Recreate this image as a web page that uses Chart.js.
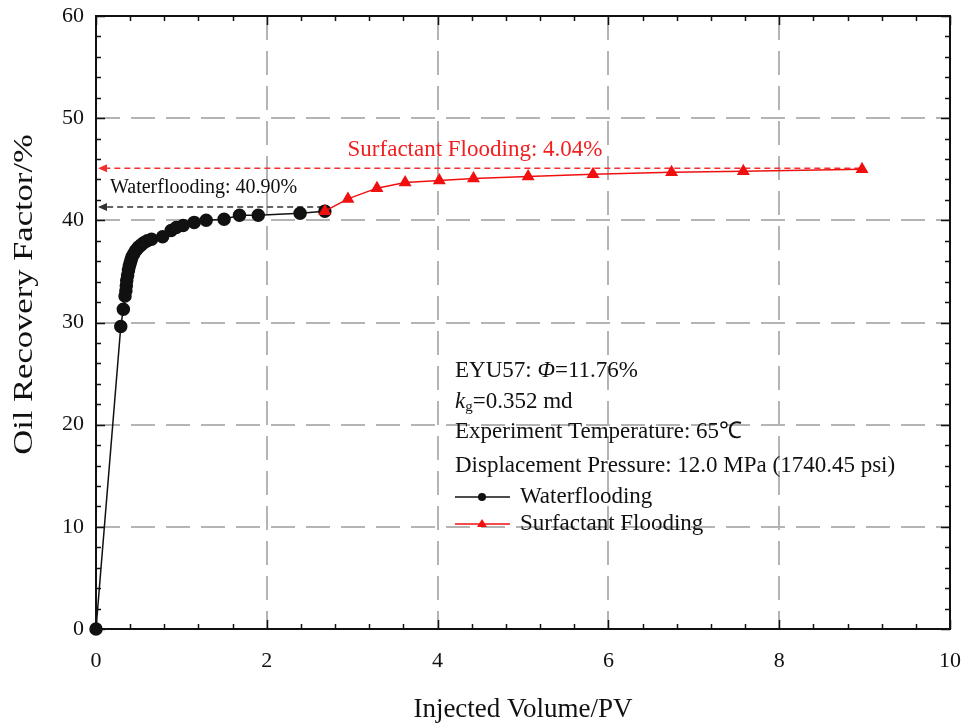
<!DOCTYPE html>
<html>
<head>
<meta charset="utf-8">
<script src="https://cdn.jsdelivr.net/npm/chart.js@4.4.1/dist/chart.umd.min.js"></script>
<style>
  html, body { margin: 0; padding: 0; background: #fff; }
  #wrap { width: 965px; height: 723px; }
</style>
</head>
<body>
<div id="wrap"><canvas id="recoveryChart" width="965" height="723"></canvas></div>
<script>
// Waterflooding stage (injected PV vs recovery %)
const waterX = [0, 0.29, 0.32, 0.34, 0.35, 0.355, 0.36, 0.37, 0.38, 0.39, 0.40, 0.41, 0.42, 0.44, 0.46, 0.48,
                0.50, 0.53, 0.56, 0.60, 0.65, 0.78, 0.88, 0.94, 1.02, 1.15, 1.29, 1.50, 1.68, 1.90, 2.39, 2.68];
const waterY = [0, 29.6, 31.3, 32.6, 33.1, 33.6, 34.1, 34.6, 35.1, 35.5, 35.8, 36.1, 36.4, 36.7, 37.0, 37.2,
                37.4, 37.6, 37.8, 38.0, 38.15, 38.4, 39.0, 39.3, 39.5, 39.8, 40.0, 40.1, 40.5, 40.5, 40.7, 40.9];

// Surfactant flooding stage
const surfX = [2.68, 2.95, 3.29, 3.62, 4.02, 4.42, 5.06, 5.82, 6.74, 7.58, 8.97];
const surfY = [40.9, 42.1, 43.15, 43.7, 43.9, 44.1, 44.3, 44.5, 44.7, 44.8, 45.0];

const xTicks = [0, 2, 4, 6, 8, 10];
const yTicks = [0, 10, 20, 30, 40, 50, 60];

// dashed arrows: [xEnd, yLevel] pointing back to x = 0
const waterArrow = [2.66, 41.3];
const surfArrow = [8.95, 45.1];

const FONT = "'Liberation Serif', 'Times New Roman', serif";

const toPoints = (xs, ys) => xs.map((x, i) => ({ x: x, y: ys[i] }));

// inward ticks, box, dashed arrows and text block
const decorPlugin = {
    id: 'decor',
    beforeDatasetsDraw(chart) {
        const { ctx, chartArea: a, scales: { x, y } } = chart;
        ctx.save();
        ctx.strokeStyle = '#111';
        ctx.lineWidth = 1.5;
        // x ticks (major every 2, minor every 0.4) on bottom and top
        for (let i = 0; i <= 25; i++) {
            const v = i * 0.4;
            const px = Math.round(x.getPixelForValue(v)) + 0.5;
            const len = (i % 5 === 0) ? 9 : 5;
            ctx.beginPath();
            ctx.moveTo(px, a.bottom); ctx.lineTo(px, a.bottom - len);
            ctx.moveTo(px, a.top); ctx.lineTo(px, a.top + len);
            ctx.stroke();
        }
        // y ticks (major every 10, minor every 2) on left and right
        for (let i = 0; i <= 30; i++) {
            const v = i * 2;
            const py = Math.round(y.getPixelForValue(v)) + 0.5;
            const len = (i % 5 === 0) ? 9 : 5;
            ctx.beginPath();
            ctx.moveTo(a.left, py); ctx.lineTo(a.left + len, py);
            ctx.moveTo(a.right, py); ctx.lineTo(a.right - len, py);
            ctx.stroke();
        }
        // dashed arrows
        const arrow = (pt, color) => {
            const x0 = x.getPixelForValue(0) + 2;
            const x1 = x.getPixelForValue(pt[0]);
            const py = y.getPixelForValue(pt[1]);
            ctx.strokeStyle = color;
            ctx.fillStyle = color;
            ctx.lineWidth = 1.4;
            ctx.setLineDash([6, 4]);
            ctx.beginPath();
            ctx.moveTo(x1, py); ctx.lineTo(x0 + 6, py);
            ctx.stroke();
            ctx.setLineDash([]);
            ctx.beginPath();
            ctx.moveTo(x0, py);
            ctx.lineTo(x0 + 9, py - 4);
            ctx.lineTo(x0 + 9, py + 4);
            ctx.closePath();
            ctx.fill();
        };
        arrow(waterArrow, '#333');
        arrow(surfArrow, '#f23030');
        ctx.restore();
    },
    afterDraw(chart) {
        const { ctx, chartArea: a } = chart;
        ctx.save();
        // frame
        ctx.strokeStyle = '#111';
        ctx.lineWidth = 2;
        ctx.strokeRect(a.left, a.top, a.right - a.left, a.bottom - a.top);

        // y axis title, drawn a bit stretched like the original
        ctx.save();
        ctx.translate(25, (a.top + a.bottom) / 2 - 28);
        ctx.rotate(-Math.PI / 2);
        ctx.scale(1.28, 1);
        ctx.fillStyle = '#111';
        ctx.font = `27px ${FONT}`;
        ctx.textAlign = 'center';
        ctx.textBaseline = 'middle';
        ctx.fillText('Oil Recovery Factor/%', 0, 0);
        ctx.restore();

        ctx.textBaseline = 'middle';
        ctx.fillStyle = '#111';
        ctx.font = `20px ${FONT}`;
        ctx.textAlign = 'left';
        ctx.fillText('Waterflooding: 40.90%', 110, 188);
        ctx.fillStyle = '#f02020';
        ctx.textAlign = 'center';
        ctx.font = `23px ${FONT}`;
        ctx.fillText('Surfactant Flooding: 4.04%', 475, 150);

        // info block
        ctx.fillStyle = '#111';
        ctx.textAlign = 'left';
        const left = 455;
        const parts = (row, yy) => {
            let cx = left;
            row.forEach(p => {
                ctx.font = p.font;
                ctx.fillText(p.t, cx, yy + (p.dy || 0));
                cx += ctx.measureText(p.t).width;
            });
        };
        parts([{ t: 'EYU57: ', font: `23px ${FONT}` },
               { t: 'Φ', font: `italic 23px ${FONT}` },
               { t: '=11.76%', font: `23px ${FONT}` }], 371);
        parts([{ t: 'k', font: `italic 23px ${FONT}` },
               { t: 'g', font: `15px ${FONT}`, dy: 5 },
               { t: '=0.352 md', font: `23px ${FONT}` }], 402);
        parts([{ t: 'Experiment Temperature: 65℃', font: `23px ${FONT}` }], 432);
        parts([{ t: 'Displacement Pressure: 12.0 MPa (1740.45 psi)', font: `23px ${FONT}` }], 466);

        // legend
        const legendRows = [
            { label: 'Waterflooding', color: '#111', shape: 'circle', yy: 497 },
            { label: 'Surfactant Flooding', color: '#f01010', shape: 'triangle', yy: 524 }
        ];
        legendRows.forEach(r => {
            ctx.strokeStyle = r.color;
            ctx.fillStyle = r.color;
            ctx.lineWidth = 1.5;
            ctx.beginPath();
            ctx.moveTo(455, r.yy); ctx.lineTo(510, r.yy);
            ctx.stroke();
            ctx.beginPath();
            if (r.shape === 'circle') {
                ctx.arc(482, r.yy, 4, 0, Math.PI * 2);
            } else {
                ctx.moveTo(482, r.yy - 5);
                ctx.lineTo(487, r.yy + 3);
                ctx.lineTo(477, r.yy + 3);
                ctx.closePath();
            }
            ctx.fill();
            ctx.fillStyle = '#111';
            ctx.font = `23px ${FONT}`;
            ctx.fillText(r.label, 520, r.yy);
        });
        ctx.restore();
    }
};

const ctx = document.getElementById('recoveryChart').getContext('2d');

new Chart(ctx, {
    type: 'scatter',
    data: {
        datasets: [
            {
                label: 'Waterflooding',
                data: toPoints(waterX, waterY),
                showLine: true,
                borderColor: '#111',
                backgroundColor: '#111',
                borderWidth: 1.5,
                pointRadius: 6,
                pointStyle: 'circle',
                clip: false,
                order: 2
            },
            {
                label: 'Surfactant Flooding',
                data: toPoints(surfX, surfY),
                showLine: true,
                borderColor: '#f01010',
                backgroundColor: '#f01010',
                borderWidth: 1.5,
                pointRadius: 6,
                pointStyle: 'triangle',
                clip: false,
                order: 1
            }
        ]
    },
    options: {
        responsive: false,
        animation: false,
        layout: { padding: { top: 16, right: 15, left: 0, bottom: 0 } },
        plugins: {
            legend: { display: false },
            tooltip: { enabled: false }
        },
        scales: {
            x: {
                type: 'linear',
                min: 0,
                max: 10,
                afterBuildTicks: s => { s.ticks = xTicks.map(v => ({ value: v })); },
                afterFit: s => { s.height = 94; s.paddingLeft = 0; s.paddingRight = 0; },
                grid: {
                    color: '#b4b4b4',
                    lineWidth: 2,
                    drawTicks: false
                },
                border: { display: false, dash: [24, 11] },
                ticks: {
                    color: '#111',
                    padding: 19,
                    font: { family: FONT, size: 22 }
                },
                title: {
                    display: true,
                    text: 'Injected Volume/PV',
                    color: '#111',
                    font: { family: FONT, size: 27 },
                    padding: { top: 0, bottom: -3 }
                }
            },
            y: {
                type: 'linear',
                min: 0,
                max: 60,
                afterBuildTicks: s => { s.ticks = yTicks.map(v => ({ value: v })); },
                afterFit: s => { s.width = 96; s.paddingTop = 0; s.paddingBottom = 0; },
                grid: {
                    color: '#b4b4b4',
                    lineWidth: 2,
                    drawTicks: false
                },
                border: { display: false, dash: [24, 11] },
                ticks: {
                    color: '#111',
                    padding: 12,
                    font: { family: FONT, size: 22 }
                }
            }
        }
    },
    plugins: [decorPlugin]
});
</script>
</body>
</html>
